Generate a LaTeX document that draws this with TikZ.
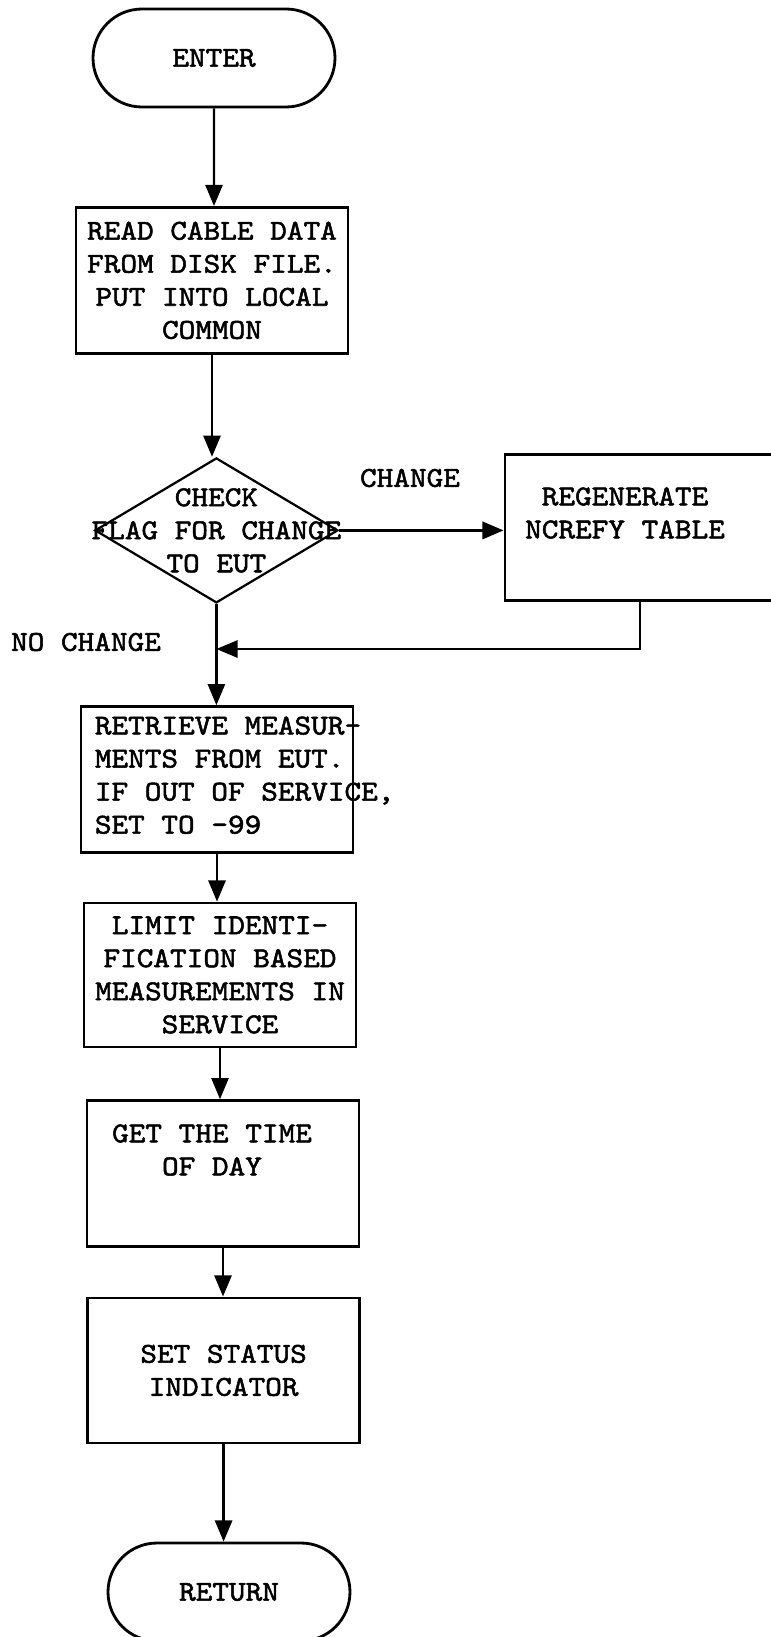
\documentclass[tikz,border=0pt]{standalone}
\usepackage{fontspec}
\usepackage{tikz}
\usetikzlibrary{positioning, shapes.geometric, shapes.misc, arrows.meta}
\newfontfamily\typewriter[FakeStretch=1.1, FakeBold=1.8]{lmmono10-regular.otf}

\begin{document}
\begin{tikzpicture}[
        txt/.style={font=\typewriter\fontsize{20.5pt}{23.5pt}\selectfont, align=center, inner sep=0pt},
        procbox/.style={shape=rectangle, draw=black, line width=2pt, minimum width=6.8cm, minimum height=3.65cm, txt},
        term/.style={shape=rounded rectangle, draw=black, line width=2pt, minimum width=6.05cm, minimum height=2.45cm, txt},
        flow/.style={line width=1.6pt, -{Triangle[length=0.53cm, width=0.43cm]}}
    ]
        \fill[white] (0,0) rectangle (19.25,-40.925);
        \useasboundingbox (0,0) rectangle (19.25,-40.925);

        % main column
        \node[term] (enter) at (5.35,-1.45) {ENTER};
        \node[procbox] (read) at (5.3,-7.01) {READ CABLE DATA\\FROM DISK FILE.\\PUT INTO LOCAL\\COMMON};
        \node[shape=diamond, draw=black, line width=1.6pt, minimum width=6.075cm, minimum height=3.625cm, inner sep=0pt] (check) at (5.41,-13.26) {};
        \node[txt] (checktxt) at (check) {CHECK\\FLAG FOR CHANGE\\TO EUT};

        % side branch
        \node[procbox, minimum width=6.75cm] (regen) at (16,-13.19) {};
        \node[txt] (regentxt) at (15.625,-12.825) {REGENERATE\\NCREFY TABLE};
        \node[txt] (changelbl) at (10.25,-11.95) {CHANGE};
        \node[txt] (nochangelbl) at (2.15,-16.05) {NO CHANGE};
        \coordinate (merge) at (check.south |- 0,-16.225);

        \node[procbox] (retrieve) at (5.425,-19.49) {};
        \node[txt, align=left, anchor=west] (retrievetxt) at ([xshift=0.375cm, yshift=0.11cm]retrieve.west) {RETRIEVE MEASUR-\\MENTS FROM EUT.\\IF OUT OF SERVICE,\\SET TO -99};
        \node[procbox, minimum height=3.6cm] (limit) at (5.5,-24.375) {LIMIT IDENTI-\\FICATION BASED\\MEASUREMENTS IN\\SERVICE};
        \node[procbox] (time) at (5.575,-29.34) {};
        \node[txt] (timetxt) at (5.3,-28.75) {GET THE TIME\\OF DAY};
        \node[procbox, minimum height=3.625cm] (status) at (5.59,-34.26) {SET STATUS\\INDICATOR};
        \node[term] (return) at (5.725,-39.8) {RETURN};

        % connectors
        \draw[flow] (enter) -- (enter |- read.north);
        \draw[flow] (read) -- (read |- check.north);
        \draw[flow, line width=2.2pt] (check.east) -- (check.east -| regen.west);
        \draw[flow] (regen.south) |- (merge);
        \draw[flow] (check.south) -- (check.south |- retrieve.north);
        \draw[flow] (retrieve) -- (retrieve |- limit.north);
        \draw[flow] (limit) -- (limit |- time.north);
        \draw[flow] (time) -- (time |- status.north);
        \draw[flow] (status) -- (status |- return.north);
    \end{tikzpicture}
\end{document}
